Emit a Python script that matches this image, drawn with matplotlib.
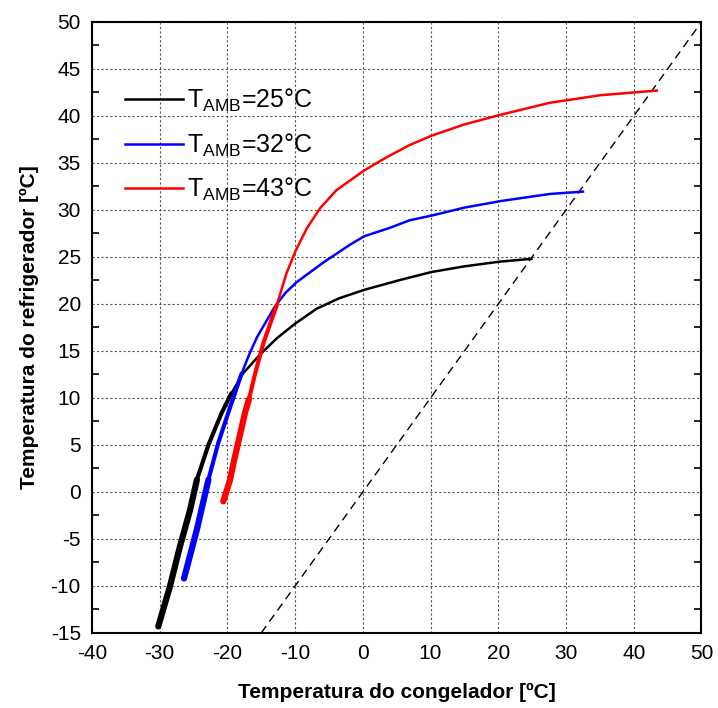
import matplotlib.pyplot as plt
import numpy as np

plt.rcParams['font.family'] = ['Liberation Sans', 'DejaVu Sans']
plt.rcParams['mathtext.fontset'] = 'custom'
plt.rcParams['mathtext.rm'] = 'Liberation Sans'
plt.rcParams['mathtext.it'] = 'Liberation Sans'
plt.rcParams['axes.unicode_minus'] = False

# dados
x_25 = [-30.2, -28.5, -27.0, -25.5, -24.5, -22.8, -20.85, -19.4, -17.7, -15.2, -12.7, -10.0, -6.8, -3.5, 0.2, 5.5, 10.15, 15.0, 20.2, 24.9]
y_25 = [-14.3, -10.1, -5.8, -1.9, 1.3, 5.0, 8.4, 10.5, 12.6, 14.6, 16.35, 17.9, 19.5, 20.6, 21.5, 22.55, 23.4, 24.0, 24.5, 24.8]

x_32 = [-26.4, -24.5, -22.8, -21.35, -19.6, -17.9, -16.7, -15.6, -13.0, -11.4, -9.8, -5.85, -1.9, 0.2, 4.0, 6.9, 10.15, 15.0, 20.4, 27.6, 32.5]
y_32 = [-9.2, -4.0, 1.3, 5.2, 9.0, 12.6, 14.75, 16.5, 19.7, 21.2, 22.3, 24.4, 26.3, 27.2, 28.1, 28.9, 29.4, 30.25, 30.95, 31.7, 31.95]

x_43 = [-20.6, -19.6, -19.1, -17.4, -16.8, -15.9, -14.7, -12.7, -11.25, -9.9, -8.3, -6.3, -3.9, 0.2, 3.5, 6.9, 10.15, 15.0, 20.2, 27.6, 35.0, 43.4]
y_43 = [-1.0, 1.3, 3.05, 8.4, 9.9, 12.6, 15.8, 19.9, 23.3, 25.7, 28.0, 30.2, 32.1, 34.2, 35.6, 36.9, 37.9, 39.1, 40.1, 41.4, 42.2, 42.7]

# (x, y, cor, rótulo, fim do trecho grosso, fim do trecho médio)
series = [
    (x_25, y_25, 'black', r'T$_{\mathrm{AMB}}$=25°C', 5, 8),
    (x_32, y_32, '#0000ff', r'T$_{\mathrm{AMB}}$=32°C', 3, 6),
    (x_43, y_43, '#ff0000', r'T$_{\mathrm{AMB}}$=43°C', 5, 8),
]

fig = plt.figure(figsize=(7.18, 7.08), dpi=100)
ax = fig.add_axes([0.128, 0.106, 0.849, 0.863])

for xs, ys, cor, rot, n1, n2 in series:
    ax.plot(xs, ys, color=cor, lw=1.8, label=rot, zorder=3, solid_joinstyle='round')
    # trechos iniciais mais grossos (dados densos e ruidosos)
    ax.plot(xs[:n2], ys[:n2], color=cor, lw=3.0, zorder=3,
            solid_capstyle='round', solid_joinstyle='round')
    ax.plot(xs[:n1], ys[:n1], color=cor, lw=4.5, zorder=3,
            solid_capstyle='round', solid_joinstyle='round')

# linha diagonal y = x
diag = np.array([-15, 50])
ax.plot(diag, diag, color='black', lw=1.0, dashes=(6, 4), zorder=2)

ax.set_xlim(-40, 50)
ax.set_ylim(-15, 50)
ax.set_xticks(np.arange(-40, 51, 10))
ax.set_yticks(np.arange(-15, 51, 5))
ax.set_yticks(np.arange(-12.5, 50, 5), minor=True)
ax.tick_params(axis='both', which='major', length=0, labelsize=15, pad=8)
ax.tick_params(axis='y', which='minor', length=5, width=1.2, direction='in', left=True, right=True)
ax.grid(True, which='major', color='#555555', linestyle=(0, (2, 2)), lw=0.8)
for s in ax.spines.values():
    s.set_linewidth(1.5)

ax.set_xlabel('Temperatura do congelador [ºC]', fontsize=15, fontweight='bold', labelpad=14)
ax.set_ylabel('Temperatura do refrigerador [ºC]', fontsize=15, fontweight='bold', labelpad=8)

ax.legend(loc='upper left', bbox_to_anchor=(0.018, 0.931), frameon=False, fontsize=18,
          handlelength=2.3, handletextpad=0.15, labelspacing=0.7)

fig.savefig('out.png', dpi=100)
